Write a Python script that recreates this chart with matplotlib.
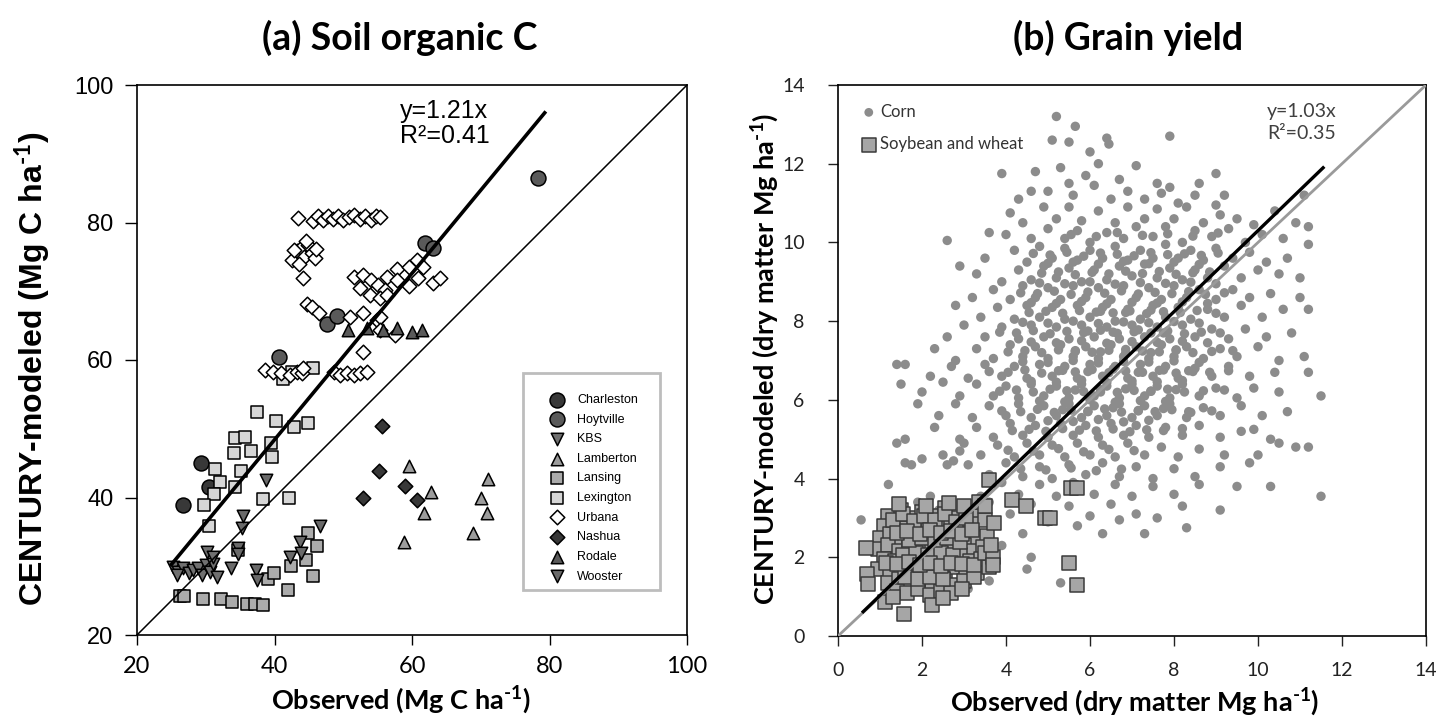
import matplotlib.pyplot as plt
from matplotlib.patches import Rectangle

plt.rcParams['mathtext.fontset'] = 'custom'
plt.rcParams['mathtext.rm'] = 'Lato:bold'
plt.rcParams['mathtext.bf'] = 'Lato:bold'
plt.rcParams['mathtext.default'] = 'rm'

# ---------------- (a) soil organic C, observed vs modeled ----------------
charleston_x = [26.7, 29.3, 30.5]
charleston_y = [38.9, 45.0, 41.5]
hoytville_x = [40.7, 47.6, 49.1, 61.9, 63.1, 78.3]
hoytville_y = [60.5, 65.2, 66.4, 77.0, 76.3, 86.5]
kbs_x = [25.3, 26.0, 26.7, 27.5, 28.2, 28.9, 29.4, 30.0, 30.6, 31.1, 31.7, 30.2, 31.0, 25.8]
kbs_y = [29.9, 29.2, 29.7, 29.0, 29.5, 29.7, 28.7, 30.2, 29.2, 30.4, 28.5, 32.1, 31.4, 28.7]
lamberton_x = [59.6, 62.7, 61.7, 58.8, 71.0, 70.1, 70.9, 68.8]
lamberton_y = [44.6, 40.8, 37.8, 33.6, 42.7, 40.0, 37.8, 34.8]
lansing_x = [26.3, 26.8, 29.6, 32.2, 33.8, 36.0, 37.2, 38.3, 39.1, 39.9, 41.9, 42.4, 44.6,
             45.6, 44.8, 46.2, 34.7]
lansing_y = [25.7, 25.7, 25.2, 25.2, 24.8, 24.5, 24.5, 24.3, 28.1, 29.0, 26.5, 30.0, 30.9,
             28.6, 34.9, 33.0, 32.4]
lexington_x = [45.6, 41.2, 37.4, 40.2, 42.9, 44.9, 34.2, 35.7, 34.1, 36.6, 39.5, 39.7, 31.3,
               35.1, 32.0, 34.3, 31.2, 29.7, 38.3, 42.1, 30.4, 42.5]
lexington_y = [58.9, 57.3, 52.4, 51.2, 50.2, 50.8, 48.6, 48.8, 46.5, 46.7, 48.0, 45.9, 44.1,
               43.8, 42.3, 41.6, 40.5, 38.9, 39.8, 40.0, 35.8, 58.2]
urbana_x = [43.4, 45.6, 46.3, 47.0, 47.8, 48.5, 49.3, 50.0, 50.8, 51.6, 52.4, 53.2, 54.0, 54.7, 55.3,
            42.5, 43.2, 43.8, 44.3, 44.9, 45.4, 45.9, 43.6, 44.6, 46.1, 42.9,
            44.2, 44.7, 45.4, 46.4,
            38.6, 39.8, 41.0, 42.3, 43.2, 44.0, 44.2,
            48.6, 49.5, 50.5, 51.5, 52.4, 53.5, 52.9,
            51.0, 52.9, 54.9,
            51.5, 52.9, 54.1, 55.1, 56.1, 52.4, 53.9, 55.3,
            56.3, 57.8, 59.5, 60.7, 61.6, 60.9, 59.5, 57.8, 56.3, 55.3, 55.3, 57.5, 63.1, 64.1]
urbana_y = [80.6, 80.2, 80.9, 80.4, 81.0, 80.5, 80.9, 80.3, 80.8, 81.1, 80.5, 80.9, 80.4, 81.0, 80.8,
            74.6, 75.8, 76.3, 75.0, 76.8, 75.6, 74.8, 73.9, 77.3, 76.2, 76.0,
            71.9, 68.2, 67.7, 66.9,
            58.5, 58.3, 58.1, 57.8, 58.3, 58.1, 58.8,
            58.3, 57.8, 58.1, 57.8, 58.1, 58.3, 61.2,
            66.3, 66.8, 65.8,
            72.1, 72.4, 71.6, 70.9, 70.2, 70.4, 69.5, 69.0,
            72.1, 73.3, 73.6, 74.5, 73.6, 71.9, 70.7, 71.6, 69.5, 66.3, 64.4, 63.6, 71.2, 71.9]
nashua_x = [52.9, 55.2, 55.7, 59.0, 60.7]
nashua_y = [39.9, 43.8, 50.4, 41.7, 39.7]
rodale_x = [50.7, 53.5, 55.8, 57.8, 60.0, 61.4]
rodale_y = [64.4, 64.6, 64.4, 64.6, 64.1, 64.3]
wooster_x = [33.6, 34.7, 34.7, 35.3, 35.4, 38.8, 37.3, 37.4, 42.2, 43.7, 43.8, 46.6]
wooster_y = [29.7, 32.6, 31.8, 35.5, 37.3, 42.5, 29.5, 28.0, 31.4, 33.6, 31.9, 35.9]

soc_fit_x = [25.0, 79.3]
soc_slope = 1.21

# ---------------- (b) grain yield ----------------
corn_x = [5.2, 5.65,
          5.1, 5.5, 6.0, 6.4, 6.45, 7.9,
          3.9, 4.7, 5.3, 5.5, 5.9, 6.2, 6.7, 7.1, 7.6, 7.9, 8.6, 9.0,
          4.3, 4.6, 5.0, 5.6, 6.1, 6.5, 6.9, 7.3, 7.7, 8.1, 8.5, 9.2, 9.0, 11.1,
          4.1, 4.4, 4.9, 5.2, 5.5, 5.8, 6.2, 6.6, 6.9, 7.3, 7.6, 8.0, 8.3, 8.7, 9.1, 9.5, 9.9, 10.4, 10.9,
          2.6, 3.6, 4.0, 4.6, 5.0, 5.4, 5.7, 6.0, 6.4, 6.8, 7.1, 7.5, 7.8, 8.2, 8.5, 8.9, 9.3, 9.7, 10.1, 10.6, 11.2,
          3.5, 4.2, 4.5, 4.8, 5.1, 5.4, 5.7, 6.0, 6.3, 6.6, 6.9, 7.2, 7.5, 7.8, 8.1, 8.4, 8.7, 9.0, 9.4, 9.8, 10.2, 10.7, 11.2,
          2.9, 3.3, 3.9, 4.3, 4.6, 4.9, 5.2, 5.5, 5.8, 6.1, 6.4, 6.7, 7.0, 7.3, 7.6, 7.9, 8.2, 8.5, 8.8, 9.2, 9.6, 10.0, 10.5, 11.0,
          3.2, 3.7, 4.1, 4.4, 4.7, 5.0, 5.3, 5.6, 5.9, 6.2, 6.5, 6.8, 7.1, 7.4, 7.7, 8.0, 8.3, 8.6, 9.0, 9.4, 9.8, 10.3, 11.0,
          2.8, 3.4, 3.8, 4.2, 4.5, 4.8, 5.1, 5.4, 5.7, 6.0, 6.3, 6.6, 6.9, 7.2, 7.5, 7.8, 8.1, 8.4, 8.8, 9.2, 9.6, 10.1, 10.6, 11.2,
          2.6, 3.0, 3.5, 3.9, 4.3, 4.6, 4.9, 5.2, 5.5, 5.8, 6.1, 6.4, 6.7, 7.0, 7.3, 7.6, 7.9, 8.2, 8.5, 8.9, 9.3, 9.7, 10.2, 10.8,
          2.3, 2.8, 3.3, 3.7, 4.1, 4.4, 4.7, 5.0, 5.3, 5.6, 5.9, 6.2, 6.5, 6.8, 7.1, 7.4, 7.7, 8.0, 8.3, 8.7, 9.1, 9.5, 10.0, 10.5, 11.1,
          1.4, 1.6, 2.2, 2.7, 3.1, 3.5, 3.9, 4.2, 4.5, 4.8, 5.1, 5.4, 5.7, 6.0, 6.3, 6.6, 6.9, 7.2, 7.5, 7.8, 8.1, 8.5, 8.9, 9.3, 9.8, 10.4, 11.2,
          1.5, 2.0, 2.5, 2.9, 3.3, 3.7, 4.0, 4.3, 4.6, 4.9, 5.2, 5.5, 5.8, 6.1, 6.4, 6.7, 7.0, 7.3, 7.6, 7.9, 8.2, 8.6, 9.0, 9.5, 9.9, 10.5, 11.5,
          1.9, 2.4, 2.8, 3.2, 3.6, 4.0, 4.3, 4.6, 4.9, 5.2, 5.5, 5.8, 6.1, 6.4, 6.7, 7.0, 7.3, 7.6, 7.9, 8.3, 8.7, 9.1, 9.6, 10.1, 10.7,
          1.4, 2.3, 2.9, 3.3, 3.7, 4.1, 4.4, 4.7, 5.0, 5.3, 5.6, 5.9, 6.2, 6.5, 6.8, 7.1, 7.4, 7.8, 8.2, 8.6, 9.1, 9.6, 9.9, 10.3, 10.9, 11.2,
          1.6, 2.5, 3.0, 3.4, 3.8, 4.2, 4.5, 4.8, 5.1, 5.4, 5.7, 6.0, 6.3, 6.6, 6.9, 7.3, 7.7, 8.1, 8.6, 9.2, 10.0, 10.5,
          1.6, 1.75, 2.0, 2.6, 2.75, 2.9, 3.1, 3.6, 4.0, 4.4, 4.8, 5.1, 5.5, 5.9, 6.3, 6.7, 7.1, 7.5, 8.0, 8.5, 9.1, 9.8,
          1.2, 2.2, 3.4, 3.9, 4.3, 4.8, 5.2, 5.6, 6.1, 6.6, 7.0, 7.5, 8.0, 8.6, 9.5, 10.3, 11.5,
          1.9, 2.4, 3.6, 4.1, 4.6, 5.0, 5.5, 6.0, 6.5, 7.1, 7.6, 8.2, 9.1,
          0.55, 3.2, 3.9, 4.4, 5.0, 5.7, 6.3, 6.7, 7.3, 8.3, 4.6, 5.3, 4.5, 3.1, 3.6,
          5.35, 5.95, 6.55, 7.15, 7.75, 8.35, 5.65, 6.25, 6.85, 7.45, 8.05, 5.35, 5.95, 6.55, 7.15,
          7.75, 8.35, 5.65, 6.25, 6.85, 7.45, 8.05, 5.95, 6.55, 7.15, 7.75, 6.25, 6.85, 7.45,
          4.65, 5.05, 5.45, 5.85, 6.25, 6.65, 7.05, 7.45, 7.85, 8.25, 8.65, 9.05,
          4.85, 5.25, 5.65, 6.05, 6.45, 6.85, 7.25, 7.65, 8.05, 8.45, 8.85,
          4.35, 4.75, 5.15, 5.55, 5.95, 6.35, 6.75, 7.15, 7.55, 7.95, 8.35, 8.75, 9.2,
          4.55, 4.95, 5.35, 5.75, 6.15, 6.55, 6.95, 7.35, 7.75, 8.15, 8.55, 9.0,
          3.85, 4.25, 4.65, 5.05, 5.45, 5.85, 6.25, 6.65, 7.05, 7.45, 7.85, 8.25, 8.65, 9.1,
          4.05, 4.45, 4.85, 5.25, 5.65, 6.05, 6.45, 6.85, 7.25, 7.65, 8.05, 8.45, 8.9, 9.4,
          3.6, 4.05, 4.45, 4.85, 5.25, 5.65, 6.05, 6.45, 6.85, 7.25, 7.65, 8.05, 8.45, 8.85, 9.3,
          3.85, 4.25, 4.65, 5.05, 5.45, 5.85, 6.25, 6.65, 7.05, 7.45, 7.85, 8.25, 8.7, 9.2,
          3.9, 4.35, 4.75, 5.15, 5.55, 5.95, 6.35, 6.75, 7.15, 7.55, 7.95, 8.4, 8.9,
          4.15, 4.55, 4.95, 5.35, 5.75, 6.15, 6.55, 6.95, 7.35, 7.75, 8.2,
          4.05, 4.65, 5.25, 5.85, 6.45, 7.05, 4.35, 4.95, 5.55, 6.15, 6.75,
          5.55, 6.15, 6.65, 7.25, 7.85, 8.45, 9.05,
          5.0, 5.6, 6.2, 6.8, 7.4, 8.0, 8.6,
          4.8, 5.4, 6.0, 6.6, 7.2, 7.8, 8.4, 9.0,
          4.6, 5.2, 5.8, 6.4, 7.0, 7.6, 8.2, 8.8,
          4.4, 5.0, 5.6, 6.2, 6.8, 7.4, 8.0, 8.6,
          4.6, 5.2, 5.8, 6.4, 7.0, 7.6, 8.2, 8.8,
          4.4, 5.0, 5.6, 6.2, 6.8, 7.4, 8.0, 8.6,
          4.6, 5.2, 5.8, 6.4, 7.0, 7.6, 8.2,
          4.8, 5.4, 6.0, 6.6, 7.2, 7.8,
          5.0, 5.6, 6.2, 6.8, 7.4]
corn_y = [13.2, 12.95,
          12.6, 12.55, 12.3, 12.65, 12.5, 12.7,
          11.75, 11.8, 11.9, 11.5, 11.7, 12.0, 11.6, 11.95, 11.5, 11.4, 11.5, 11.75,
          11.1, 11.3, 11.3, 11.2, 11.45, 11.1, 11.3, 11.1, 11.25, 11.0, 11.2, 11.2, 10.95, 11.2,
          10.75, 10.5, 10.9, 10.6, 10.9, 10.55, 10.8, 10.5, 10.9, 10.6, 10.85, 10.6, 10.9, 10.5, 10.7, 10.6, 10.45, 10.8, 10.5,
          10.05, 10.25, 10.2, 10.1, 10.35, 10.1, 10.3, 10.0, 10.25, 10.1, 10.4, 10.15, 10.4, 10.0, 10.3, 10.15, 10.35, 10.0, 10.2, 10.1, 10.4,
          9.6, 9.8, 9.5, 9.9, 9.6, 9.85, 9.55, 9.8, 9.6, 9.9, 9.55, 9.8, 9.6, 9.95, 9.6, 9.8, 9.55, 9.85, 9.6, 9.75, 9.5, 9.6, 9.95,
          9.4, 9.2, 9.0, 9.3, 9.05, 9.4, 9.1, 9.35, 9.0, 9.3, 9.05, 9.4, 9.15, 9.45, 9.1, 9.35, 9.05, 9.3, 9.1, 9.4, 9.1, 9.3, 9.2, 9.1,
          8.6, 8.8, 8.55, 8.9, 8.6, 8.85, 8.55, 8.9, 8.6, 8.85, 8.55, 8.9, 8.6, 8.85, 8.55, 8.9, 8.6, 8.8, 8.55, 8.8, 8.6, 8.7, 8.6,
          8.4, 8.1, 8.35, 8.05, 8.4, 8.1, 8.35, 8.05, 8.4, 8.1, 8.35, 8.0, 8.3, 8.05, 8.4, 8.1, 8.35, 8.05, 8.3, 8.1, 8.4, 8.1, 8.3, 8.3,
          7.6, 7.9, 7.6, 7.85, 7.55, 7.9, 7.6, 7.85, 7.55, 7.9, 7.6, 7.85, 7.55, 7.9, 7.6, 7.85, 7.55, 7.9, 7.6, 7.8, 7.55, 7.8, 7.6, 7.7,
          7.3, 7.0, 7.3, 7.05, 7.4, 7.1, 7.35, 7.05, 7.4, 7.1, 7.35, 7.05, 7.4, 7.1, 7.35, 7.05, 7.4, 7.1, 7.35, 7.05, 7.3, 7.1, 7.35, 7.0, 7.1,
          6.9, 6.9, 6.6, 6.85, 6.55, 6.9, 6.6, 6.85, 6.55, 6.9, 6.6, 6.85, 6.55, 6.9, 6.6, 6.85, 6.55, 6.9, 6.6, 6.85, 6.55, 6.8, 6.6, 6.85, 6.6, 6.7, 6.7,
          6.4, 6.2, 6.45, 6.1, 6.4, 6.1, 6.35, 6.05, 6.4, 6.1, 6.35, 6.05, 6.4, 6.1, 6.35, 6.05, 6.4, 6.1, 6.35, 6.05, 6.4, 6.1, 6.3, 6.05, 6.3, 6.2, 6.1,
          5.9, 5.6, 5.9, 5.55, 5.85, 5.6, 5.9, 5.55, 5.85, 5.6, 5.9, 5.55, 5.85, 5.6, 5.9, 5.55, 5.85, 5.6, 5.9, 5.55, 5.8, 5.6, 5.85, 5.6, 5.7,
          4.9, 5.3, 5.0, 5.3, 5.05, 5.4, 5.1, 5.35, 5.05, 5.4, 5.1, 5.35, 5.05, 5.4, 5.1, 5.35, 5.05, 5.3, 5.1, 5.35, 5.05, 5.2, 5.25, 5.0, 4.8, 4.8,
          5.0, 4.6, 4.9, 4.6, 4.85, 4.55, 4.9, 4.6, 4.85, 4.55, 4.9, 4.6, 4.85, 4.55, 4.9, 4.6, 4.8, 4.55, 4.75, 4.6, 4.6, 4.9,
          4.4, 4.35, 4.5, 4.35, 4.45, 4.7, 4.35, 4.1, 4.4, 4.05, 4.3, 4.0, 4.35, 4.1, 4.4, 4.05, 4.3, 4.0, 4.25, 4.05, 4.3, 4.4,
          3.85, 3.55, 3.55, 3.9, 3.6, 3.85, 3.55, 3.9, 3.6, 3.85, 3.55, 3.8, 3.6, 3.85, 3.8, 3.8, 3.55,
          3.4, 3.2, 3.4, 3.1, 3.35, 3.0, 3.3, 3.05, 3.35, 3.1, 3.0, 3.3, 3.2,
          2.95, 2.6, 2.3, 2.6, 2.9, 2.8, 2.6, 2.95, 2.6, 2.75, 2.0, 1.35, 1.7, 1.2, 1.4,
          5.75, 5.7, 5.8, 5.72, 5.78, 5.7, 6.25, 6.2, 6.28, 6.22, 6.26, 6.75, 6.72, 6.78, 6.7,
          6.76, 6.74, 7.25, 7.22, 7.28, 7.2, 7.26, 7.75, 7.72, 7.78, 7.7, 8.25, 8.22, 8.28,
          9.72, 9.68, 9.75, 9.65, 9.73, 9.7, 9.66, 9.74, 9.69, 9.71, 9.67, 9.73,
          9.22, 9.25, 9.18, 9.24, 9.2, 9.27, 9.21, 9.26, 9.19, 9.23, 9.25,
          8.72, 8.7, 8.76, 8.68, 8.74, 8.71, 8.77, 8.69, 8.73, 8.7, 8.75, 8.68, 8.72,
          8.22, 8.25, 8.2, 8.27, 8.23, 8.21, 8.26, 8.19, 8.24, 8.22, 8.27, 8.2,
          7.72, 7.7, 7.76, 7.68, 7.74, 7.71, 7.77, 7.69, 7.73, 7.7, 7.75, 7.68, 7.72, 7.7,
          7.22, 7.25, 7.2, 7.27, 7.23, 7.21, 7.26, 7.19, 7.24, 7.22, 7.27, 7.2, 7.23, 7.25,
          6.72, 6.7, 6.76, 6.68, 6.74, 6.71, 6.77, 6.69, 6.73, 6.7, 6.75, 6.68, 6.72, 6.7, 6.74,
          6.22, 6.25, 6.2, 6.27, 6.23, 6.21, 6.26, 6.19, 6.24, 6.22, 6.27, 6.2, 6.23, 6.25,
          5.72, 5.7, 5.76, 5.68, 5.74, 5.71, 5.77, 5.69, 5.73, 5.7, 5.75, 5.68, 5.72,
          5.22, 5.25, 5.2, 5.27, 5.23, 5.21, 5.26, 5.19, 5.24, 5.22, 5.27,
          4.72, 4.7, 4.76, 4.68, 4.74, 4.71, 4.25, 4.22, 4.27, 4.2, 4.24,
          10.2, 10.15, 10.25, 10.18, 10.22, 10.16, 10.24,
          9.47, 9.5, 9.45, 9.52, 9.46, 9.5, 9.44,
          8.97, 8.95, 9.0, 8.94, 8.98, 8.96, 8.99, 8.95,
          8.47, 8.45, 8.5, 8.44, 8.48, 8.46, 8.49, 8.45,
          7.97, 7.95, 8.0, 7.94, 7.98, 7.96, 7.99, 7.95,
          7.47, 7.45, 7.5, 7.44, 7.48, 7.46, 7.49, 7.45,
          6.97, 6.95, 7.0, 6.94, 6.98, 6.96, 6.99, 6.95,
          6.47, 6.45, 6.5, 6.44, 6.48, 6.46, 6.49,
          5.97, 5.95, 6.0, 5.94, 5.98, 5.96,
          5.47, 5.45, 5.5, 5.44, 5.48]

soy_x = [1.2, 1.5, 1.75, 2.0, 2.3, 2.55, 2.8, 3.1, 3.3,
         1.1, 1.35, 1.6, 1.9, 2.15, 2.4, 2.7, 2.95, 3.2, 3.5,
         1.0, 1.25, 1.5, 1.8, 2.05, 2.3, 2.6, 2.85, 3.05, 3.3, 3.55,
         0.95, 1.2, 1.45, 1.7, 2.0, 2.25, 2.5, 2.75, 3.0, 3.2, 3.45,
         1.1, 1.35, 1.6, 1.85, 2.1, 2.35, 2.6, 2.9, 3.15, 3.4,
         0.95, 1.25, 1.5, 1.75, 2.0, 2.3, 2.55, 2.8, 3.05, 3.3, 3.6,
         1.2, 1.45, 1.7, 2.0, 2.25, 2.5, 2.75, 3.0, 3.25,
         1.4, 1.65, 1.9, 2.2, 2.45, 2.7, 2.95,
         1.55, 1.85, 2.15, 2.45, 2.75, 1.7, 2.0, 2.3, 2.6, 2.9, 1.6, 1.9, 2.2, 2.5,
         1.3, 1.55, 1.8, 2.05, 2.3, 2.55, 2.8, 3.05,
         1.4, 1.65, 1.95, 2.2, 2.45, 2.7, 2.95, 3.2,
         1.15, 1.4, 1.7, 1.95, 2.2, 2.45, 2.7, 2.95, 3.25, 3.5,
         1.45, 2.1, 2.65, 3.0, 3.35,
         0.66, 0.68, 0.71, 1.12, 1.32, 1.58, 2.23, 2.5, 3.6, 4.14, 4.47, 4.93, 5.05, 3.7, 3.7,
         3.71, 5.5, 5.7, 3.65, 3.5, 5.55, 5.7]
soy_y = [3.05, 3.2, 3.0, 3.15, 3.05, 3.25, 3.0, 3.15, 3.05,
         2.8, 2.9, 2.75, 2.85, 2.7, 2.9, 2.8, 2.7, 2.85, 2.95,
         2.5, 2.6, 2.45, 2.55, 2.4, 2.6, 2.5, 2.45, 2.6, 2.5, 2.55,
         2.2, 2.3, 2.15, 2.3, 2.2, 2.35, 2.15, 2.25, 2.3, 2.15, 2.25,
         1.95, 1.9, 2.0, 1.85, 2.0, 1.9, 1.95, 2.05, 1.9, 1.95,
         1.7, 1.6, 1.75, 1.65, 1.55, 1.7, 1.6, 1.75, 1.65, 1.6, 1.75,
         1.35, 1.45, 1.3, 1.4, 1.35, 1.45, 1.3, 1.4, 1.5,
         1.15, 1.1, 1.2, 1.05, 1.15, 1.1, 1.2,
         2.05, 2.1, 2.05, 2.1, 2.05, 2.45, 2.5, 2.45, 2.5, 2.4, 1.5, 1.45, 1.5, 1.45,
         2.95, 3.1, 2.92, 3.05, 2.95, 3.1, 2.9, 3.0,
         2.62, 2.68, 2.6, 2.7, 2.62, 2.68, 2.58, 2.7,
         1.85, 1.82, 1.88, 1.8, 1.85, 1.78, 1.86, 1.82, 1.8, 2.1,
         3.35, 3.3, 3.38, 3.3, 3.4,
         2.24, 1.57, 1.32, 0.87, 1.0, 0.55, 0.79, 0.96, 3.96, 3.45, 3.3, 2.99, 2.99, 2.01, 1.8,
         2.88, 1.85, 1.3, 2.3, 3.3, 3.75, 3.75]

yield_fit_x = [0.6, 11.55]
yield_slope = 1.03

W, H = 1456, 725
fig = plt.figure(figsize=(W / 100, H / 100), dpi=100)

ARIAL = ['Liberation Sans', 'DejaVu Sans']
CALIBRI = ['Lato', 'DejaVu Sans']

# ---- panel (a)
ax1 = fig.add_axes([137 / W, 90 / H, 550 / W, 550 / H])
ec = dict(edgecolors='black', linewidths=1.1)
ax1.scatter(charleston_x, charleston_y, s=115, marker='o', c='#383838', label='Charleston', **ec)
ax1.scatter(hoytville_x, hoytville_y, s=115, marker='o', c='#5a5a5a', label='Hoytville', **ec)
ax1.scatter(kbs_x, kbs_y, s=80, marker='v', c='#707070', label='KBS', **ec)
ax1.scatter(lamberton_x, lamberton_y, s=80, marker='^', c='#9c9c9c', label='Lamberton', **ec)
ax1.scatter(lansing_x, lansing_y, s=70, marker='s', c='#ababab', label='Lansing', **ec)
ax1.scatter(lexington_x, lexington_y, s=70, marker='s', c='#d6d6d6', label='Lexington', **ec)
ax1.scatter(urbana_x, urbana_y, s=55, marker='D', c='white', label='Urbana', **ec)
ax1.scatter(nashua_x, nashua_y, s=55, marker='D', c='#383838', label='Nashua', **ec)
ax1.scatter(rodale_x, rodale_y, s=80, marker='^', c='#5a5a5a', label='Rodale', **ec)
ax1.scatter(wooster_x, wooster_y, s=80, marker='v', c='#6a6a6a', label='Wooster', **ec)

ax1.plot([20, 100], [20, 100], color='black', lw=1.1, zorder=5)
ax1.plot(soc_fit_x, [soc_slope * v for v in soc_fit_x], color='black', lw=2.6, zorder=6)
ax1.text(0.478, 0.975, 'y=1.21x\nR²=0.41', transform=ax1.transAxes, ha='left', va='top',
         fontsize=18, family=ARIAL, linespacing=1.05)

ax1.set_xlim(20, 100)
ax1.set_ylim(20, 100)
ax1.set_xticks([20, 40, 60, 80, 100])
ax1.set_yticks([20, 40, 60, 80, 100])
ax1.tick_params(axis='y', direction='out', length=9, width=1, pad=8, labelsize=17)
ax1.tick_params(axis='x', direction='out', length=7, width=1, pad=8, labelsize=17)
for lab in ax1.get_yticklabels():
    lab.set_family(ARIAL)
for lab in ax1.get_xticklabels():
    lab.set_family(CALIBRI)
for sp in ax1.spines.values():
    sp.set_linewidth(1.2)

ax1.add_patch(Rectangle(((523 - 137) / 550, (635 - 590) / 550), 137 / 550, 217 / 550,
                        transform=ax1.transAxes, fill=False, edgecolor='#bdbdbd', lw=2, zorder=7))
leg1 = ax1.legend(loc='upper left', bbox_to_anchor=((547 - 137) / 550, (635 - 394) / 550),
                  frameon=False, borderpad=0, handlelength=1.6, handletextpad=0.8,
                  labelspacing=0.61, borderaxespad=0, prop={'family': ARIAL, 'size': 9})
leg1.set_zorder(8)

# ---- panel (b)
ax2 = fig.add_axes([838 / W, 89 / H, 588 / W, 551 / H])
ax2.scatter(corn_x, corn_y, s=46, marker='o', c='#8c8c8c', edgecolors='none', label='Corn')
ax2.scatter(soy_x, soy_y, s=95, marker='s', c='#a6a6a6', edgecolors='#3a3a3a', linewidths=1.1,
            label='Soybean and wheat')
ax2.plot([0, 14], [0, 14], color='#9a9a9a', lw=2, zorder=4)
ax2.plot(yield_fit_x, [yield_slope * v for v in yield_fit_x], color='black', lw=2.4, zorder=5)
ax2.text(0.73, 0.968, 'y=1.03x\nR²=0.35', transform=ax2.transAxes, ha='left', va='top',
         fontsize=14, family=CALIBRI, color='#404040', linespacing=1.35)

ax2.set_xlim(0, 14)
ax2.set_ylim(0, 14)
ax2.set_xticks(range(0, 15, 2))
ax2.set_yticks(range(0, 15, 2))
ax2.tick_params(axis='y', direction='out', length=7, width=1, pad=17, labelsize=14, colors='#222222')
ax2.tick_params(axis='x', direction='out', length=7, width=1, pad=12, labelsize=14, colors='#222222')
for lab in ax2.get_xticklabels() + ax2.get_yticklabels():
    lab.set_family(CALIBRI)
for sp in ax2.spines.values():
    sp.set_linewidth(1.2)

leg2 = ax2.legend(loc='upper left', bbox_to_anchor=(0.041, 0.966), frameon=False, borderpad=0,
                  handlelength=0.8, handletextpad=0.3, labelspacing=0.99, borderaxespad=0,
                  labelcolor='#333333', prop={'family': CALIBRI, 'size': 12})
leg2.legend_handles[0].set_sizes([40])

# ---- titles and axis labels
fig.text(400 / W, 1 - 38 / H, '(a) Soil organic C', ha='center', va='center',
         fontsize=27, fontweight='bold', family=CALIBRI)
fig.text(1128 / W, 1 - 38 / H, '(b) Grain yield', ha='center', va='center',
         fontsize=27, fontweight='bold', family=CALIBRI)
fig.text(401 / W, 1 - 700 / H, 'Observed (Mg C ha$^{\\text{-}1}$)', ha='center', va='center',
         fontsize=19.5, fontweight='bold', family=CALIBRI)
fig.text(1135 / W, 1 - 702 / H, 'Observed (dry matter Mg ha$^{\\text{-}1}$)', ha='center',
         va='center', fontsize=19.5, fontweight='bold', family=CALIBRI)
fig.text(33 / W, 1 - 369 / H, 'CENTURY-modeled (Mg C ha$^{\\text{-}1}$)', ha='center', va='center',
         rotation=90, fontsize=23, fontweight='bold', family=ARIAL)
fig.text(765 / W, 1 - 359 / H, 'CENTURY-modeled (dry matter Mg ha$^{\\text{-}1}$)', ha='center',
         va='center', rotation=90, fontsize=19.5, fontweight='bold', family=CALIBRI)

fig.savefig('out.png', dpi=100)
